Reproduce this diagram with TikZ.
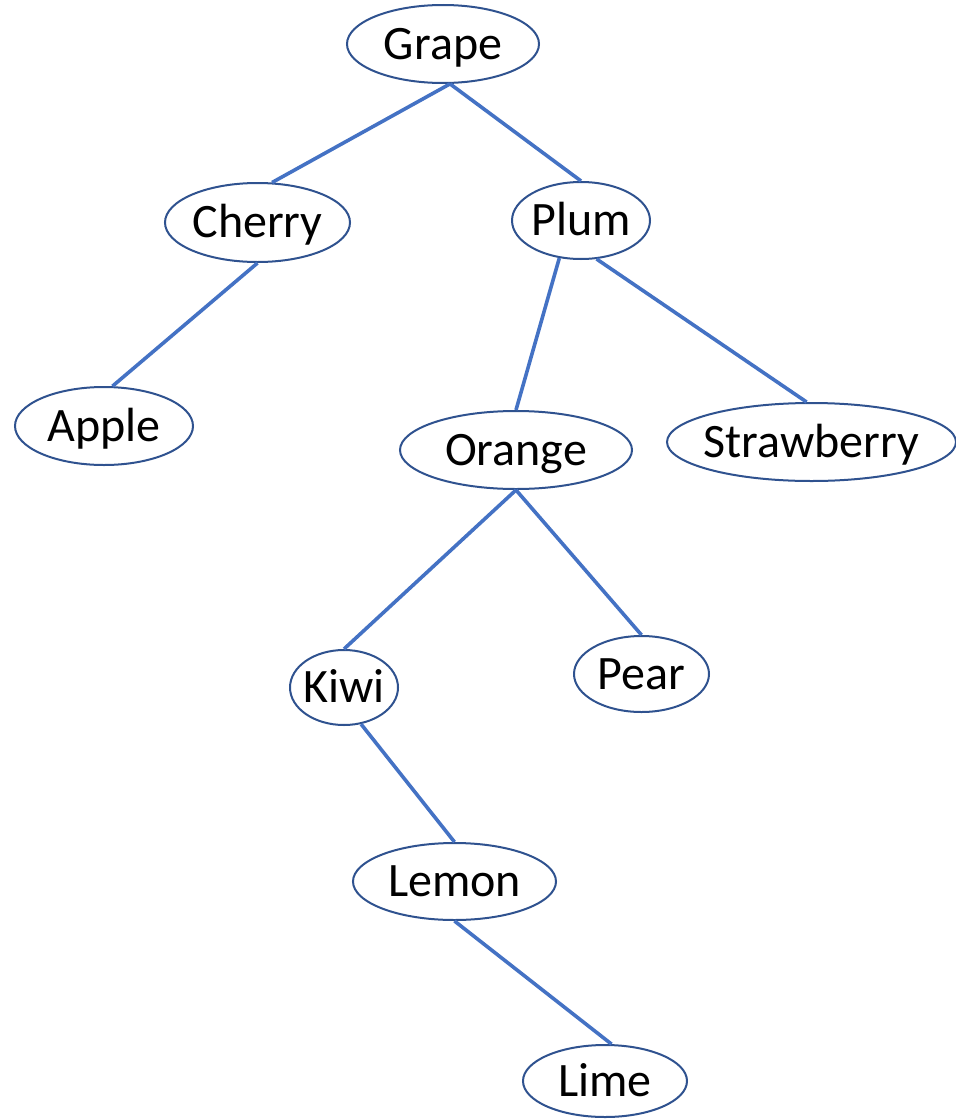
\documentclass[tikz,border=0pt]{standalone}
\usepackage{fontspec}
\setmainfont{Carlito}
\usetikzlibrary{shapes.geometric}

\definecolor{ringblue}{HTML}{2F528F}
\definecolor{edgeblue}{HTML}{4472C4}

\tikzset{
  fruit/.style={ellipse, draw=ringblue, line width=1pt, inner xsep=-4pt, inner ysep=0pt,
    text height=15.1pt, text depth=0pt, font=\fontsize{24}{28}\selectfont},
  edge/.style={draw=edgeblue, line width=1.8pt}
}

\begin{document}
\begin{tikzpicture}[x=0.5pt,y=-0.5pt]
\useasboundingbox (0,0) rectangle (956,1119);

% The fruits
\node [fruit, minimum width=96pt, minimum height=39pt] (grape) at (443,44) {Grape};
\node [fruit, minimum width=92.5pt, minimum height=39.5pt] (cherry) at (257.5,222.5) {Cherry};
\node [fruit, minimum width=69pt, minimum height=38.5pt] (plum) at (581,220.5) {Plum};
\node [fruit, minimum width=89pt, minimum height=39pt] (apple) at (104,426) {Apple};
\node [fruit, minimum width=116pt, minimum height=39pt] (orange) at (516,450) {Orange};
\node [fruit, minimum width=144.5pt, minimum height=39pt] (strawberry) at (811.5,442) {Strawberry};
\node [fruit, minimum width=54pt, minimum height=37.5pt] (kiwi) at (344,687.5) {Kiwi};
\node [fruit, minimum width=67.5pt, minimum height=38pt] (pear) at (641.5,674) {Pear};
\node [fruit, minimum width=101.5pt, minimum height=38.5pt] (lemon) at (454.5,881.5) {Lemon};
\node [fruit, minimum width=82pt, minimum height=36pt] (lime) at (605,1081) {Lime};

% Branches: parent anchor / child anchor
\foreach \a/\b in {grape.-80/cherry.70, grape.-80/plum.north, cherry.south/apple.78,
  plum.240/orange.north, plum.-68/strawberry.97, orange.south/kiwi.north,
  orange.south/pear.north, kiwi.-65/lemon.north, lemon.south/lime.80} {
\draw [edge] (\a) -- (\b);
}
\end{tikzpicture}
\end{document}
